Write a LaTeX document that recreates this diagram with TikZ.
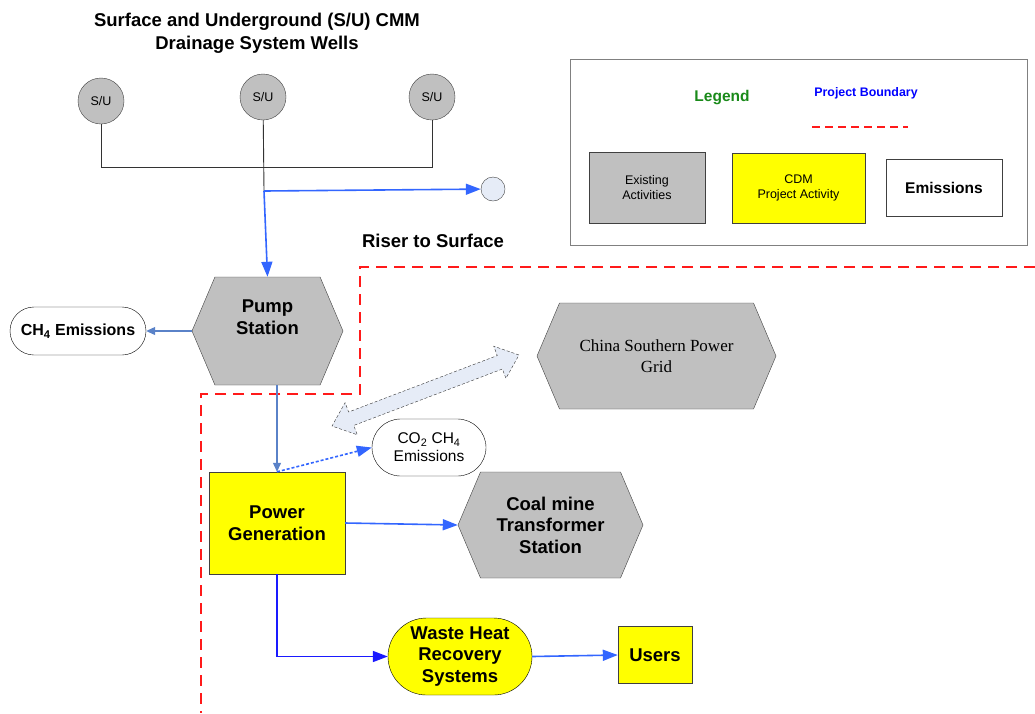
\documentclass[tikz,border=0pt]{standalone}
\usepackage{fontspec}
\setmainfont{Liberation Sans}
\newfontfamily\gridfont{Liberation Serif}
\usetikzlibrary{shapes.misc, shapes.symbols, shapes.arrows, arrows.meta, positioning}

\definecolor{gray1}{HTML}{C0C0C0}
\definecolor{yellow1}{HTML}{FFFF00}
\definecolor{blue1}{HTML}{3366FF}
\definecolor{blue2}{HTML}{5A82C8}
\definecolor{blue3}{HTML}{1A1AFF}
\definecolor{blue4}{HTML}{E6ECF7}
\definecolor{green1}{HTML}{1A8A1A}
\definecolor{red1}{HTML}{FF1A1A}
\definecolor{edge1}{HTML}{404040}

\newcommand{\bigfont}{\fontsize{18.5}{21.5}\selectfont\bfseries}
\newcommand{\midfont}{\fontsize{15.5}{18}\selectfont}
\newcommand{\smallfont}{\fontsize{12.5}{15}\selectfont}

\tikzset{
  well/.style={circle, draw=edge1, fill=gray1, minimum size=46pt, inner sep=0pt, font=\smallfont},
  hexbox/.style={signal, signal to=east and west, signal pointer angle=134, draw=edge1, fill=gray1, inner sep=0pt, align=center},
  actbox/.style={rectangle, draw=edge1, fill=yellow1, inner sep=0pt, align=center, font=\bigfont},
  emitbox/.style={rounded rectangle, draw=black, fill=white, inner sep=0pt, align=center},
  feed/.style={blue1, line width=1.6pt, -{Triangle[length=15pt,width=11pt]}},
  pipe/.style={blue2, line width=1.2pt, -{Triangle[length=9pt,width=8pt]}},
  wire/.style={black!80, line width=0.9pt},
  boundary/.style={red1, line width=1.8pt, dash pattern=on 11pt off 7pt}
}

\begin{document}
\begin{tikzpicture}[x=1pt, y=-1pt]
  \useasboundingbox (0,0) rectangle (1035,713);

  % drainage wells
  \node[align=center, font=\fontsize{18.5}{23}\selectfont\bfseries] (title) at (257,33.5) {Surface and Underground (S/U) CMM\\Drainage System Wells};
  \node[well] (wellL) at (101,101) {S/U};
  \node[well] (wellM) at (263,97) {S/U};
  \node[well] (wellR) at (432,97) {S/U};
  \node[circle, draw=edge1, fill=blue4, minimum size=24pt, inner sep=0pt] (vent) at (493,189) {};
  \coordinate (bus) at (0,167);
  \coordinate (junc) at (264,191);
  \draw[wire] (wellL) -- (wellL |- bus) -- (wellR |- bus) -- (wellR);
  \draw[wire] (wellM) -- (junc);
  \draw[feed] (junc) -- (vent);

  \node[font=\bigfont] (riser) at (433,241) {Riser to Surface};

  % project boundary
  \draw[boundary] (1035,267) -- (360,267) -- (360,394) -- (201,394) -- (201,713);

  % activities
  \node[hexbox, minimum width=151pt, minimum height=108pt, text depth=28pt, font=\bigfont] (pump) at (267.5,331) {Pump\\Station};
  \node[emitbox, minimum width=136pt, minimum height=48pt, font=\fontsize{16}{19}\selectfont\bfseries] (ch4) at (78,331) {CH\textsubscript{4} Emissions};
  \node[hexbox, minimum width=239pt, minimum height=106pt, font=\gridfont\fontsize{17}{21}\selectfont] (grid) at (656.5,356) {China Southern Power\\Grid};
  \node[double arrow, draw=black!80, densely dashed, fill=blue4, minimum height=200pt, inner xsep=0pt, inner ysep=7pt, double arrow head extend=10pt, double arrow tip angle=80, rotate=20.8] (tie) at (425.5,390.5) {};
  \node[emitbox, minimum width=114pt, minimum height=57pt, font=\midfont] (gas) at (429,447.5) {CO\textsubscript{2} CH\textsubscript{4}\\Emissions};
  \node[actbox, minimum width=136pt, minimum height=102pt] (power) at (277,523) {Power\\Generation};
  \node[hexbox, minimum width=185pt, minimum height=106pt, font=\bigfont] (coal) at (550.5,525) {Coal mine\\Transformer\\Station};
  \node[emitbox, fill=yellow1, minimum width=144pt, minimum height=77pt, font=\bigfont] (waste) at (460,656.5) {Waste Heat\\Recovery\\Systems};
  \node[actbox, minimum width=74pt, minimum height=57pt] (users) at (655,655) {Users};

  \draw[feed] (junc) -- (pump.north);
  \draw[pipe] (pump.west) -- (ch4.east);
  \draw[pipe] (pump.south -| power.north) -- (power.north);
  \draw[feed, densely dashed] (power.north) -- (gas.west);
  \draw[feed] (power.east) -- (coal.west);
  \draw[feed, blue3] (power.south) |- (waste.west);
  \draw[feed] (waste.east) -- (users.west);

  % legend
  \node[draw=gray, line width=1pt, minimum width=457pt, minimum height=186pt] (legend) at (798.5,152) {};
  \node[font=\fontsize{15.5}{18}\selectfont\bfseries, text=green1] (legtitle) at (722,98) {Legend};
  \node[font=\fontsize{12.4}{15}\selectfont\bfseries, text=blue] (legbound) at (866,93) {Project Boundary};
  \coordinate (dashA) at (812,127);
  \coordinate (dashB) at (908,127);
  \draw[red1, line width=1.5pt, dash pattern=on 8pt off 5pt] (dashA) -- (dashB);
  \node[draw=edge1, fill=gray1, minimum width=116pt, minimum height=71pt, align=center, font=\smallfont] (legexist) at (647,187.5) {Existing\\Activities};
  \node[draw=edge1, fill=yellow1, minimum width=133pt, minimum height=70pt, align=center, font=\smallfont] (legcdm) at (798.5,188) {CDM\\Project Activity};
  \node[draw=edge1, fill=white, minimum width=116pt, minimum height=57pt, font=\fontsize{15.5}{18}\selectfont\bfseries] (legemit) at (944,187.5) {Emissions};
\end{tikzpicture}
\end{document}
